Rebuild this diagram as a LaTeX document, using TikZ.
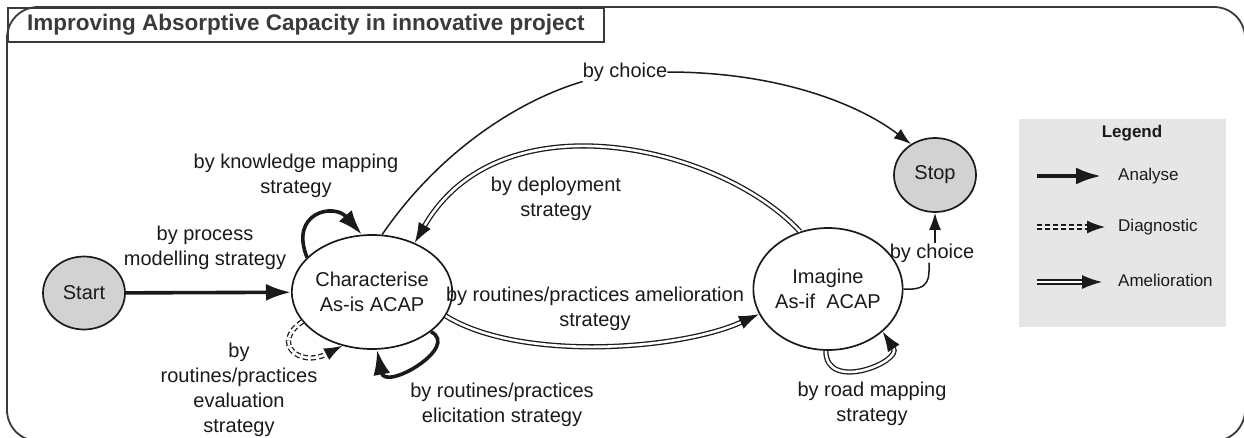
\documentclass[tikz,border=0pt]{standalone}
\usepackage{fontspec}
\setmainfont{Liberation Sans}
\usetikzlibrary{arrows.meta,shapes.geometric}
\definecolor{ink}{HTML}{1A1A1A}
\definecolor{frame}{HTML}{3A3A3A}
\definecolor{stategray}{HTML}{D2D2D2}
\definecolor{leggray}{HTML}{E6E6E6}
\tikzset{
  every node/.style={font=\fontsize{20}{25}\selectfont, text=ink},
  state/.style={ellipse, draw=ink, line width=1.7pt, inner sep=0pt, align=center},
  lbl/.style={align=center, inner sep=1pt},
  plain/.style={draw=ink, line width=1.5pt, -{Latex[length=17pt,width=12pt]}},
  plainline/.style={draw=ink, line width=1.5pt},
  analyse/.style={draw=ink, line width=3.6pt, -{Latex[length=25pt,width=17pt]}},
  amel/.style={draw=ink, line width=1.3pt, double=white, double distance=2.6pt, -{Latex[length=20pt,width=14pt]}},
  diag/.style={draw=ink, line width=1.3pt, double=white, double distance=2.6pt, dash pattern=on 5pt off 3pt, -{Latex[length=18pt,width=13pt]}},
  legtext/.style={font=\fontsize{17}{20}\selectfont, anchor=west, inner sep=0pt}
}
\begin{document}
\begin{tikzpicture}[x=1pt,y=-1pt]
\useasboundingbox (0,0) rectangle (1244,437);
% frame
\draw[frame, line width=1.8pt, rounded corners=31pt] (7,7) rectangle (1245,441);
\node[draw=frame, line width=1.8pt, anchor=north west, minimum width=596pt, minimum height=34pt, inner sep=0pt,
      font=\fontsize{22.5}{26}\selectfont\bfseries, text=frame] (title) at (7,7) {Improving Absorptive Capacity in innovative project};
% legend
\fill[leggray] (1019,119) rectangle (1226,327);
\node[font=\fontsize{17}{20}\selectfont\bfseries] (legt) at (1132,133) {Legend};
\coordinate (la1) at (1037,176); \coordinate (la2) at (1101,176);
\coordinate (ld1) at (1037,227); \coordinate (ld2) at (1105,227);
\coordinate (lm1) at (1037,282); \coordinate (lm2) at (1102,282);
\draw[analyse] (la1) -- (la2);
\draw[diag] (ld1) -- (ld2);
\draw[amel] (lm1) -- (lm2);
\node[legtext] (lta) at (1118,176) {Analyse};
\node[legtext] (ltd) at (1118,227) {Diagnostic};
\node[legtext] (ltm) at (1118,280) {Amelioration};
% states
\node[state, fill=stategray, minimum width=82pt, minimum height=73pt] (start) at (84,293) {Start};
\node[state, fill=white, minimum width=130pt, minimum height=114pt] (ch) at (372,292) {Characterise\\As-is ACAP};
\node[state, fill=white, minimum width=130pt, minimum height=122pt] (im) at (828,289) {Imagine\\As-if\ \ ACAP};
\node[state, fill=stategray, minimum width=82pt, minimum height=74pt] (stop) at (935,175) {Stop};
% labels
\node[lbl] (lk) at (296,176) {by knowledge mapping\\strategy};
\node[lbl] (lp) at (205,248) {by process\\modelling strategy};
\node[lbl] (le) at (239,390) {by\\routines/practices\\evaluation\\strategy};
\node[lbl] (lel) at (502,405) {by routines/practices\\elicitation strategy};
\node[lbl] (lam) at (595,309) {by routines/practices amelioration\\strategy};
\node[lbl] (ld) at (556,199) {by deployment\\strategy};
\node[lbl] (lr) at (872,404) {by road mapping\\strategy};
\node[inner sep=0pt] (c1) at (625,72) {by choice};
\node[inner sep=0pt] (c2) at (932,253) {by choice};
% connectors
\draw[analyse] (start) -- (ch);
\draw[analyse] (ch.152) .. controls +(-18,-45) and +(-28,-32) .. (ch.100);
\draw[analyse] (ch.326) .. controls +(30,15) and +(8,42) .. (ch.275);
\draw[diag] (ch.203) .. controls +(-32,22) and +(-42,22) .. (ch.241);
\draw[amel] (ch.342) .. controls (520,362) and (680,350) .. (im.200);
\draw[amel] (im.116) .. controls (720,145) and (500,95) .. (ch.49);
\draw[amel] (im.268) .. controls +(0,42) and +(20,30) .. (im.322);
\draw[plainline] (ch.80) .. controls (440,150) and (520,100) .. (c1.south west);
\draw[plain] (c1.east) .. controls (780,72) and (860,105) .. (stop.128);
\draw[plainline] (im.east) .. controls +(28,2) and +(0,14) .. ([xshift=-3pt]c2.south);
\draw[plain] ([xshift=3pt]c2.north) -- (stop.south);
\end{tikzpicture}
\end{document}
